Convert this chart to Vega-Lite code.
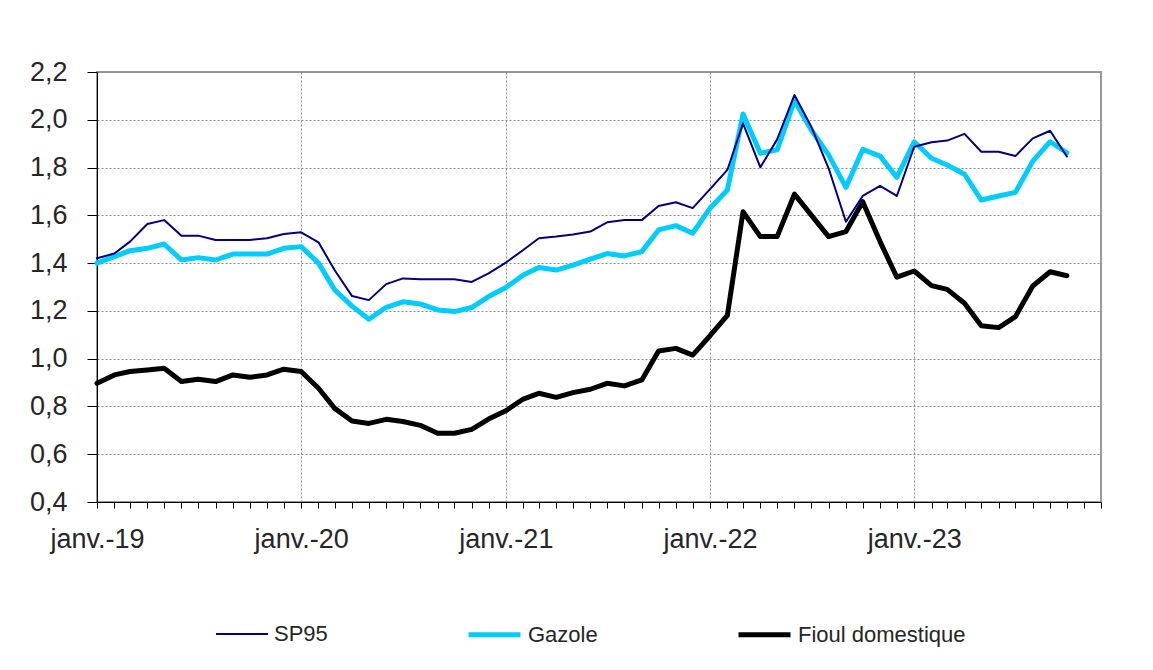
{
  "$schema": "https://vega.github.io/schema/vega-lite/v6.json",
  "width": 1004,
  "height": 430,
  "autosize": "none",
  "padding": {"left": 97, "top": 72, "right": 52, "bottom": 168},
  "background": "white",
  "title": {"text": "En €/", "anchor": "start", "frame": "group", "offset": 67, "dx": -107, "fontSize": 15, "font": "Liberation Sans", "fontWeight": "normal", "color": "#222", "baseline": "alphabetic"},
  "config": {
    "font": "Liberation Sans",
    "view": {"stroke": "#999999", "strokeWidth": 2},
    "axis": {"labelFont": "Liberation Sans", "labelColor": "#262626", "labelFontSize": 27, "domainColor": "#000000", "tickColor": "#000000", "gridColor": "#8c8c8c", "gridDash": [2, 2], "gridWidth": 1, "title": null}
  },
  "data": {"values": [
    {"d":"2019-01-01","SP95":1.42,"Gazole":1.40,"Fioul domestique":0.897},
    {"d":"2019-02-01","SP95":1.44,"Gazole":1.427,"Fioul domestique":0.932},
    {"d":"2019-03-01","SP95":1.49,"Gazole":1.452,"Fioul domestique":0.946},
    {"d":"2019-04-01","SP95":1.564,"Gazole":1.462,"Fioul domestique":0.953},
    {"d":"2019-05-01","SP95":1.58,"Gazole":1.48,"Fioul domestique":0.96},
    {"d":"2019-06-01","SP95":1.515,"Gazole":1.413,"Fioul domestique":0.904},
    {"d":"2019-07-01","SP95":1.515,"Gazole":1.423,"Fioul domestique":0.914},
    {"d":"2019-08-01","SP95":1.497,"Gazole":1.413,"Fioul domestique":0.904},
    {"d":"2019-09-01","SP95":1.497,"Gazole":1.438,"Fioul domestique":0.932},
    {"d":"2019-10-01","SP95":1.497,"Gazole":1.438,"Fioul domestique":0.922},
    {"d":"2019-11-01","SP95":1.504,"Gazole":1.438,"Fioul domestique":0.932},
    {"d":"2019-12-01","SP95":1.522,"Gazole":1.462,"Fioul domestique":0.956},
    {"d":"2020-01-01","SP95":1.529,"Gazole":1.469,"Fioul domestique":0.946},
    {"d":"2020-02-01","SP95":1.487,"Gazole":1.40,"Fioul domestique":0.876},
    {"d":"2020-03-01","SP95":1.37,"Gazole":1.288,"Fioul domestique":0.792},
    {"d":"2020-04-01","SP95":1.262,"Gazole":1.22,"Fioul domestique":0.739},
    {"d":"2020-05-01","SP95":1.245,"Gazole":1.165,"Fioul domestique":0.729},
    {"d":"2020-06-01","SP95":1.312,"Gazole":1.215,"Fioul domestique":0.746},
    {"d":"2020-07-01","SP95":1.336,"Gazole":1.238,"Fioul domestique":0.737},
    {"d":"2020-08-01","SP95":1.332,"Gazole":1.229,"Fioul domestique":0.721},
    {"d":"2020-09-01","SP95":1.332,"Gazole":1.204,"Fioul domestique":0.688},
    {"d":"2020-10-01","SP95":1.332,"Gazole":1.197,"Fioul domestique":0.688},
    {"d":"2020-11-01","SP95":1.321,"Gazole":1.214,"Fioul domestique":0.704},
    {"d":"2020-12-01","SP95":1.357,"Gazole":1.26,"Fioul domestique":0.747},
    {"d":"2021-01-01","SP95":1.402,"Gazole":1.298,"Fioul domestique":0.782},
    {"d":"2021-02-01","SP95":1.455,"Gazole":1.35,"Fioul domestique":0.831},
    {"d":"2021-03-01","SP95":1.504,"Gazole":1.382,"Fioul domestique":0.855},
    {"d":"2021-04-01","SP95":1.511,"Gazole":1.371,"Fioul domestique":0.838},
    {"d":"2021-05-01","SP95":1.52,"Gazole":1.392,"Fioul domestique":0.858},
    {"d":"2021-06-01","SP95":1.532,"Gazole":1.417,"Fioul domestique":0.872},
    {"d":"2021-07-01","SP95":1.571,"Gazole":1.44,"Fioul domestique":0.897},
    {"d":"2021-08-01","SP95":1.58,"Gazole":1.43,"Fioul domestique":0.886},
    {"d":"2021-09-01","SP95":1.58,"Gazole":1.448,"Fioul domestique":0.911},
    {"d":"2021-10-01","SP95":1.639,"Gazole":1.539,"Fioul domestique":1.032},
    {"d":"2021-11-01","SP95":1.655,"Gazole":1.557,"Fioul domestique":1.043},
    {"d":"2021-12-01","SP95":1.63,"Gazole":1.525,"Fioul domestique":1.015},
    {"d":"2022-01-01","SP95":1.71,"Gazole":1.63,"Fioul domestique":1.096},
    {"d":"2022-02-01","SP95":1.79,"Gazole":1.706,"Fioul domestique":1.181},
    {"d":"2022-03-01","SP95":1.985,"Gazole":2.024,"Fioul domestique":1.615},
    {"d":"2022-04-01","SP95":1.801,"Gazole":1.86,"Fioul domestique":1.511},
    {"d":"2022-05-01","SP95":1.918,"Gazole":1.874,"Fioul domestique":1.511},
    {"d":"2022-06-01","SP95":2.104,"Gazole":2.08,"Fioul domestique":1.689},
    {"d":"2022-07-01","SP95":1.971,"Gazole":1.957,"Fioul domestique":1.601},
    {"d":"2022-08-01","SP95":1.797,"Gazole":1.853,"Fioul domestique":1.511},
    {"d":"2022-09-01","SP95":1.573,"Gazole":1.717,"Fioul domestique":1.532},
    {"d":"2022-10-01","SP95":1.681,"Gazole":1.876,"Fioul domestique":1.657},
    {"d":"2022-11-01","SP95":1.723,"Gazole":1.848,"Fioul domestique":1.49},
    {"d":"2022-12-01","SP95":1.681,"Gazole":1.759,"Fioul domestique":1.341},
    {"d":"2023-01-01","SP95":1.887,"Gazole":1.908,"Fioul domestique":1.367},
    {"d":"2023-02-01","SP95":1.906,"Gazole":1.839,"Fioul domestique":1.306},
    {"d":"2023-03-01","SP95":1.913,"Gazole":1.811,"Fioul domestique":1.29},
    {"d":"2023-04-01","SP95":1.941,"Gazole":1.772,"Fioul domestique":1.232},
    {"d":"2023-05-01","SP95":1.866,"Gazole":1.664,"Fioul domestique":1.138},
    {"d":"2023-06-01","SP95":1.866,"Gazole":1.681,"Fioul domestique":1.13},
    {"d":"2023-07-01","SP95":1.848,"Gazole":1.696,"Fioul domestique":1.176},
    {"d":"2023-08-01","SP95":1.922,"Gazole":1.827,"Fioul domestique":1.304},
    {"d":"2023-09-01","SP95":1.954,"Gazole":1.908,"Fioul domestique":1.364},
    {"d":"2023-10-01","SP95":1.846,"Gazole":1.862,"Fioul domestique":1.347}
  ]},
  "transform": [{"fold": ["Fioul domestique", "Gazole", "SP95"], "as": ["serie", "prix"]}],
  "mark": {"type": "line", "strokeJoin": "round", "strokeCap": "round"},
  "encoding": {
    "x": {
      "field": "d", "type": "temporal",
      "scale": {"type": "utc", "domain": [{"year": 2019, "month": 1, "date": 1, "utc": true}, {"year": 2023, "month": 12, "date": 1, "utc": true}], "nice": false},
      "axis": {
        "tickCount": {"interval": "month", "step": 1},
        "labelExpr": "utcmonth(datum.value) == 0 ? 'janv.-' + utcFormat(datum.value, '%y') : ''",
        "labelFlush": false, "labelOverlap": false, "labelBound": false,
        "labelAlign": "center", "labelPadding": 18,
        "tickSize": 6,
        "grid": true,
        "gridOpacity": {"condition": {"test": "utcmonth(datum.value) == 0", "value": 1}, "value": 0}
      }
    },
    "y": {
      "field": "prix", "type": "quantitative",
      "scale": {"domain": [0.4, 2.2], "nice": false, "zero": false},
      "axis": {
        "values": [0.4, 0.6, 0.8, 1.0, 1.2, 1.4, 1.6, 1.8, 2.0, 2.2],
        "labelExpr": "replace(format(datum.value, '.1f'), '.', ',')",
        "tickSize": 10, "labelPadding": 20, "grid": true
      }
    },
    "color": {
      "field": "serie", "type": "nominal",
      "scale": {"domain": ["SP95", "Gazole", "Fioul domestique"], "range": ["#000080", "#00ccff", "#000000"]},
      "legend": {"title": null, "orient": "none", "direction": "horizontal", "legendX": 118, "legendY": 534, "symbolType": "stroke", "symbolSize": 2704, "labelFontSize": 22, "labelFont": "Liberation Sans", "labelColor": "#262626", "labelLimit": 400, "columnPadding": 130, "labelOffset": 5}
    },
    "strokeWidth": {
      "field": "serie", "type": "nominal",
      "scale": {"type": "ordinal", "domain": ["SP95", "Gazole", "Fioul domestique"], "range": [2, 5, 5]},
      "legend": {"title": null, "orient": "none", "direction": "horizontal", "legendX": 118, "legendY": 534, "symbolType": "stroke", "symbolSize": 2704, "labelFontSize": 22, "labelFont": "Liberation Sans", "labelColor": "#262626", "labelLimit": 400, "columnPadding": 130, "labelOffset": 5}
    }
  }
}
